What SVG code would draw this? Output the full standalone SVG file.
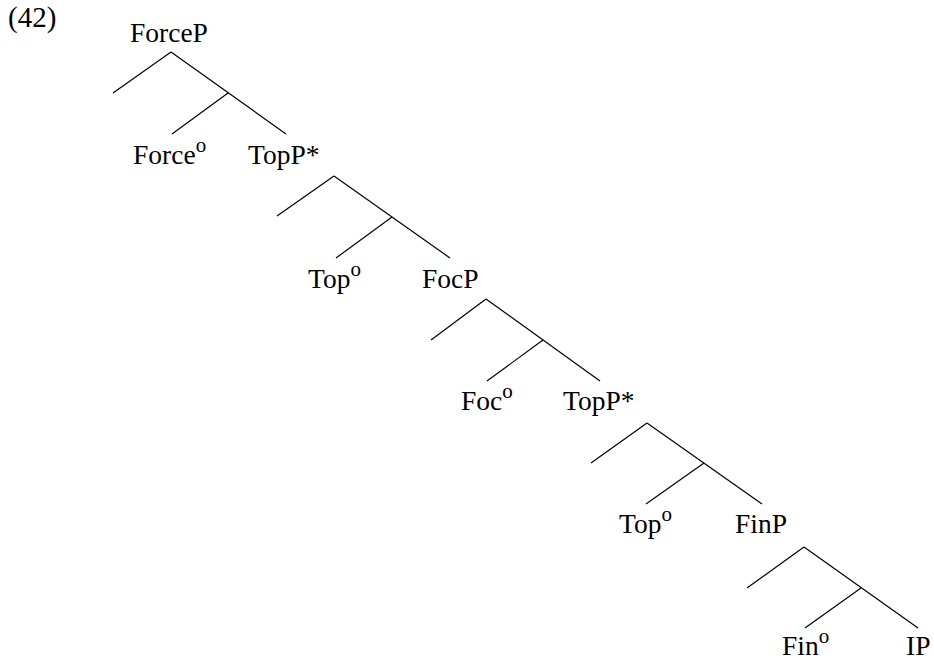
<svg xmlns="http://www.w3.org/2000/svg" width="934" height="661" viewBox="0 0 934 661">
<style>
  text { font-family: "Liberation Serif", "Times New Roman", serif; font-size: 27.5px; fill: #000; }
  .sup { font-size: 21px; }
  line { stroke: #000; stroke-width: 1.2; stroke-linecap: butt; }
</style>
<rect width="934" height="661" fill="#fff"/>
<g id="label"><text x="8" y="27" style="font-size:29px">(42)</text></g>
<g id="connectors">
  <line x1="171" y1="52" x2="113" y2="93"/>
  <line x1="171" y1="52" x2="286" y2="134"/>
  <line x1="228" y1="93" x2="172" y2="134"/>

  <line x1="334" y1="176" x2="277" y2="216"/>
  <line x1="334" y1="176" x2="450" y2="258"/>
  <line x1="392" y1="217" x2="336" y2="258"/>

  <line x1="486" y1="299" x2="431" y2="340"/>
  <line x1="486" y1="299" x2="600" y2="381"/>
  <line x1="543" y1="340" x2="487" y2="381"/>

  <line x1="647" y1="423" x2="591" y2="463"/>
  <line x1="647" y1="423" x2="762" y2="504"/>
  <line x1="704" y1="463" x2="646" y2="504"/>

  <line x1="804" y1="547" x2="747" y2="588"/>
  <line x1="804" y1="547" x2="918" y2="628"/>
  <line x1="861" y1="588" x2="805" y2="628"/>
</g>
<g id="ForceP"><text x="130" y="42">ForceP</text></g>
<g id="Force0"><text x="133" y="164">Force<tspan class="sup" dy="-12">o</tspan></text></g>
<g id="TopP1"><text x="248" y="164">TopP*</text></g>
<g id="Top1"><text x="308" y="288">Top<tspan class="sup" dy="-12">o</tspan></text></g>
<g id="FocP"><text x="422" y="288">FocP</text></g>
<g id="Foc0"><text x="461" y="410">Foc<tspan class="sup" dy="-12">o</tspan></text></g>
<g id="TopP2"><text x="563" y="410">TopP*</text></g>
<g id="Top2"><text x="619" y="533">Top<tspan class="sup" dy="-12">o</tspan></text></g>
<g id="FinP"><text x="735" y="533">FinP</text></g>
<g id="Fin0"><text x="782" y="655">Fin<tspan class="sup" dy="-12">o</tspan></text></g>
<g id="IP"><text x="906" y="655">IP</text></g>
</svg>
